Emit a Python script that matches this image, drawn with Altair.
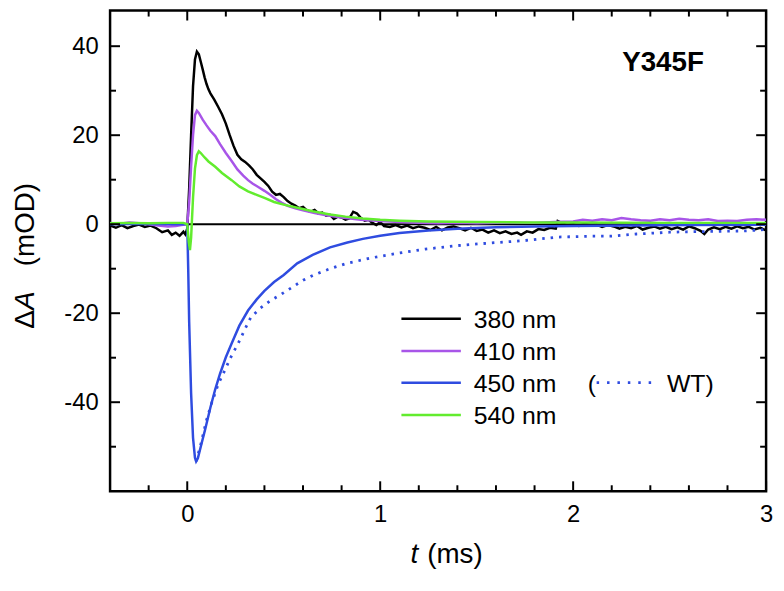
import altair as alt
import pandas as pd

# ---------------- data ----------------
t380 = [-0.40, -0.37, -0.34, -0.31, -0.28, -0.25, -0.22, -0.19, -0.16, -0.13, -0.10, -0.08, -0.06, -0.04, -0.02, -0.01,
        0.00, 0.01, 0.02, 0.03, 0.04, 0.05, 0.06, 0.07, 0.08, 0.09, 0.10, 0.11, 0.12, 0.14, 0.16, 0.18, 0.20, 0.22,
        0.24, 0.26, 0.28, 0.30, 0.32, 0.34, 0.36, 0.38, 0.40, 0.42, 0.44, 0.46, 0.48, 0.50, 0.52, 0.54, 0.56, 0.58,
        0.60, 0.62, 0.64, 0.66, 0.68, 0.70, 0.72, 0.74, 0.76, 0.78, 0.80, 0.82, 0.84, 0.86, 0.88, 0.90, 0.92, 0.94,
        0.96, 0.98, 1.00, 1.02, 1.05, 1.08, 1.11, 1.14, 1.17, 1.20, 1.23, 1.26, 1.29, 1.32, 1.35, 1.38, 1.41, 1.44,
        1.47, 1.50, 1.53, 1.56, 1.59, 1.62, 1.65, 1.68, 1.71, 1.73, 1.76, 1.79, 1.82, 1.85, 1.88, 1.91, 1.92, 1.94,
        1.97, 2.00, 2.03, 2.06, 2.09, 2.12, 2.15, 2.18, 2.21, 2.24, 2.27, 2.30, 2.33, 2.36, 2.39, 2.42, 2.45, 2.48,
        2.51, 2.54, 2.57, 2.60, 2.63, 2.66, 2.68, 2.70, 2.73, 2.76, 2.79, 2.82, 2.85, 2.88, 2.91, 2.94, 2.97, 3.00]
y380 = [-0.3, -0.8, -0.2, -0.9, -0.4, -0.1, -0.6, -0.3, -0.9, -1.8, -1.4, -2.4, -1.9, -2.6, -1.7, -2.3,
        -1.0, 8.0, 20.0, 31.0, 37.0, 38.8, 38.2, 36.5, 34.8, 33.0, 31.5, 30.3, 29.4, 28.0, 26.4, 24.7, 22.6, 20.0,
        17.6, 15.6, 14.6, 14.0, 13.2, 12.3, 11.1, 10.3, 9.5, 8.6, 7.3, 6.6, 6.8, 6.1, 5.2, 4.6, 4.2, 3.6,
        3.9, 3.1, 2.8, 3.2, 2.4, 2.6, 1.9, 2.1, 1.2, 1.7, 1.5, 1.0, 1.3, 2.8, 2.4, 1.4, 0.8, 1.0,
        0.3, -0.2, 0.5, -0.4, -0.6, -0.2, -0.7, -0.3, -0.9, -0.5, -0.8, -1.3, -0.6, -1.4, -0.7, -0.5, -0.9, -1.4,
        -0.8, -1.5, -1.2, -1.9, -1.4, -2.0, -1.6, -2.2, -1.9, -2.4, -1.6, -1.9, -1.1, -1.3, -0.8, -1.0, 0.7, 0.3,
        -0.3, 0.0, -0.4, 0.1, -0.3, -0.1, -0.6, -0.2, -0.5, -1.0, -0.6, -0.9, -0.4, -1.2, -0.8, -0.5, -1.0, -0.6,
        -1.1, -0.7, -1.2, -0.5, -0.9, -1.5, -2.2, -1.2, -0.7, -1.1, -0.6, -1.0, -0.5, -0.9, -0.6, -1.2, -0.8, -1.4]

t410 = [-0.40, -0.35, -0.30, -0.25, -0.20, -0.15, -0.10, -0.06, -0.03, 0.00, 0.01, 0.02, 0.03, 0.04, 0.05, 0.06,
        0.08, 0.10, 0.12, 0.145, 0.17, 0.20, 0.23, 0.26, 0.29, 0.315, 0.34, 0.37, 0.40, 0.43, 0.46, 0.49, 0.52,
        0.56, 0.60, 0.66, 0.72, 0.80, 0.90, 1.00, 1.10, 1.20, 1.30, 1.40, 1.50, 1.60, 1.70, 1.80, 1.90, 2.00,
        2.05, 2.10, 2.15, 2.20, 2.25, 2.30, 2.35, 2.40, 2.45, 2.50, 2.55, 2.60, 2.65, 2.70, 2.75, 2.80, 2.85,
        2.90, 2.95, 3.00]
y410 = [0.3, 0.1, 0.4, 0.2, 0.0, -0.3, -0.5, -0.4, -0.2, 0.0, 5.0, 13.0, 20.0, 24.5, 25.5, 25.0,
        23.5, 22.2, 21.0, 19.8, 18.0, 16.0, 14.2, 12.3, 10.9, 9.9, 9.1, 8.3, 7.5, 6.6, 5.6, 4.8, 4.1,
        3.6, 3.1, 2.5, 2.0, 1.5, 1.0, 0.7, 0.5, 0.3, 0.2, 0.3, 0.2, 0.3, 0.4, 0.3, 0.5, 0.6,
        1.0, 0.8, 1.1, 0.9, 1.4, 1.1, 0.9, 0.8, 1.1, 0.9, 1.2, 1.0, 0.9, 1.1, 0.7, 0.8, 0.7,
        1.0, 1.1, 1.0]

t450 = [-0.40, -0.20, -0.05, 0.00, 0.005, 0.01, 0.02, 0.03, 0.04, 0.046, 0.055, 0.07, 0.094, 0.12, 0.145, 0.17,
        0.20, 0.23, 0.27, 0.315, 0.36, 0.40, 0.45, 0.50, 0.57, 0.65, 0.74, 0.83, 0.91, 1.00, 1.10, 1.25, 1.40,
        1.60, 1.80, 2.00, 2.30, 2.60, 3.00]
y450 = [0.0, 0.1, 0.0, 0.0, -10.0, -22.0, -38.0, -48.0, -52.5, -53.3, -52.6, -50.0, -45.9, -41.2, -37.1, -33.6,
        -29.9, -26.8, -22.8, -19.4, -16.9, -15.0, -13.0, -11.4, -8.8, -6.9, -5.2, -4.1, -3.3, -2.6, -2.0, -1.4, -1.0,
        -0.7, -0.5, -0.4, -0.3, -0.2, -0.1]

tWT = [0.046, 0.07, 0.10, 0.128, 0.16, 0.196, 0.23, 0.264, 0.30, 0.33, 0.38, 0.43, 0.485, 0.55, 0.60, 0.656,
       0.74, 0.826, 0.95, 1.08, 1.234, 1.40, 1.575, 1.745, 1.915, 2.085, 2.20, 2.33, 2.50, 2.59, 2.75, 2.89, 3.00]
yWT = [-53.3, -49.5, -44.0, -40.0, -36.0, -32.7, -29.5, -26.8, -23.5, -20.9, -18.8, -17.2, -15.8, -14.0, -12.6, -11.4,
       -10.0, -8.8, -7.6, -6.6, -5.6, -4.8, -4.2, -3.7, -2.9, -2.7, -2.7, -2.2, -1.8, -1.7, -1.6, -1.5, -1.2]

t540 = [-0.40, -0.30, -0.20, -0.10, -0.02, 0.00, 0.008, 0.014, 0.02, 0.03, 0.04, 0.05, 0.06, 0.07, 0.09, 0.11,
        0.145, 0.18, 0.23, 0.27, 0.315, 0.36, 0.40, 0.45, 0.50, 0.57, 0.65, 0.74, 0.82, 0.91, 1.00, 1.10, 1.25,
        1.50, 1.75, 2.00, 2.50, 3.00]
y540 = [0.2, 0.3, 0.2, 0.3, 0.3, 0.0, -4.0, -5.8, -3.0, 6.0, 12.5, 15.5, 16.4, 16.0, 15.0, 14.1,
        12.9, 11.5, 9.9, 8.5, 7.4, 6.6, 5.9, 5.0, 4.4, 3.7, 2.9, 2.2, 1.7, 1.3, 1.0, 0.8, 0.6,
        0.5, 0.4, 0.4, 0.3, 0.3]

series_names = ["380 nm", "410 nm", "450 nm", "540 nm"]
series_colors = ["#000000", "#a855e8", "#2f4ce0", "#62ec2e"]
wt_label = "WT)"

x_major = [0, 1, 2, 3]
x_minor = [-0.2, 0.2, 0.4, 0.6, 0.8, 1.2, 1.4, 1.6, 1.8, 2.2, 2.4, 2.6, 2.8]
y_major = [-40, -20, 0, 20, 40]
y_minor = [-50, -30, -10, 10, 30]

# ---------------- layout ----------------
W, H = 662, 485
FONT = "Liberation Sans"
xs = alt.Scale(domain=[-0.4, 3], nice=False, zero=False)
ys = alt.Scale(domain=[-60, 48], nice=False, zero=False)
x_axis = alt.Axis(values=x_major, labelExpr="'' + datum.value", domain=False, ticks=False, tickSize=0,
                  grid=False, labelFont=FONT, labelFontSize=24, labelColor="black", labelPadding=12,
                  labelFlush=False)
y_axis = alt.Axis(values=y_major, labelExpr="'' + datum.value", domain=False, ticks=False, tickSize=0,
                  grid=False, labelFont=FONT, labelFontSize=24, labelColor="black", labelPadding=12,
                  labelFlush=False)
X = lambda: alt.X("t:Q", scale=xs, title=None, axis=x_axis)
Y = lambda: alt.Y("y:Q", scale=ys, title=None, axis=y_axis)


def curve(ts, vs, color, dash=None):
    df = pd.DataFrame({"t": ts, "y": vs})
    kw = dict(color=color, strokeWidth=2.5, clip=True)
    if dash:
        kw.update(strokeDash=dash, strokeWidth=2.8)
    return alt.Chart(df).mark_line(**kw).encode(x=X(), y=Y())


one = pd.DataFrame({"k": [0]})


def txt(s, x, y, size, align="left", angle=0, style="normal", weight="normal", baseline="middle"):
    return alt.Chart(one).mark_text(
        text=s, font=FONT, fontSize=size, align=align, baseline=baseline, angle=angle,
        fontStyle=style, fontWeight=weight, color="black"
    ).encode(x=alt.value(x), y=alt.value(y))


layers = []

# zero line
zero = pd.DataFrame({"t": [0.0], "t2": [3.0], "y": [0.0]})
layers.append(alt.Chart(zero).mark_rule(color="black", strokeWidth=2).encode(
    x=X(), x2="t2:Q", y=Y()))

# curves
layers.append(curve(t380, y380, series_colors[0]))
layers.append(curve(t410, y410, series_colors[1]))
layers.append(curve(t450, y450, series_colors[2]))
layers.append(curve(tWT, yWT, series_colors[2], dash=[2.5, 6]))
layers.append(curve(t540, y540, series_colors[3]))

# inward ticks on all four sides
for vals, L in ((x_major, 10), (x_minor, 6)):
    d = pd.DataFrame({"t": vals})
    layers.append(alt.Chart(d).mark_rule(color="black", strokeWidth=2).encode(
        x=X(), y=alt.value(H), y2=alt.value(H - L)))
    layers.append(alt.Chart(d).mark_rule(color="black", strokeWidth=2).encode(
        x=X(), y=alt.value(0), y2=alt.value(L)))
for vals, L in ((y_major, 10), (y_minor, 6)):
    d = pd.DataFrame({"y": vals})
    layers.append(alt.Chart(d).mark_rule(color="black", strokeWidth=2).encode(
        y=Y(), x=alt.value(0), x2=alt.value(L)))
    layers.append(alt.Chart(d).mark_rule(color="black", strokeWidth=2).encode(
        y=Y(), x=alt.value(W), x2=alt.value(W - L)))

# legend (manual)
row_y = [311, 343.5, 375.5, 408]
for name, col, ry in zip(series_names, series_colors, row_y):
    layers.append(alt.Chart(one).mark_rule(color=col, strokeWidth=2.5).encode(
        x=alt.value(294), x2=alt.value(354), y=alt.value(ry)))
    layers.append(txt(name, 367, ry + 1, 25))
layers.append(txt("(", 482, row_y[2] + 1, 25))
layers.append(alt.Chart(one).mark_rule(color=series_colors[2], strokeWidth=2.8, strokeDash=[2.5, 8]).encode(
    x=alt.value(491), x2=alt.value(548), y=alt.value(row_y[2])))
layers.append(txt(wt_label, 562, row_y[2] + 1, 25))

# sample label
layers.append(txt("Y345F", 558, 53, 28, align="center", weight="bold"))

# axis titles
layers.append(txt("t", 311, 549, 28, align="right", style="italic"))
layers.append(txt("(ms)", 320, 549, 28, align="left"))
layers.append(txt("\u0394", -85, 321, 28, align="left", angle=270))
layers.append(txt("A", -85, 302, 28, align="left", angle=270, style="italic"))
layers.append(txt("(mOD)", -85, 174, 28, align="right", angle=270))

chart = alt.layer(*layers).properties(
    width=W, height=H,
    autosize=alt.AutoSizeParams(type="none"),
    padding={"left": 103, "top": 0, "right": 10, "bottom": 90},
).configure_view(
    stroke="black", strokeWidth=2.5
)

chart.save("out.html", embed_options={"renderer": "svg", "actions": False})
